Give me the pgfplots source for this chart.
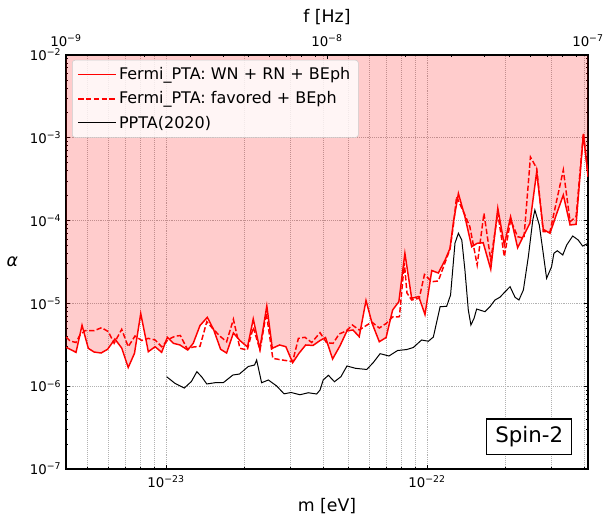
\documentclass[border=0pt]{standalone}
\usepackage{fontspec}
\setmainfont{DejaVu Sans}
\usepackage{pgfplots}
\pgfplotsset{compat=1.18}
\usepackage{pgfplotstable}
\usepgfplotslibrary{fillbetween}

\pgfplotstableread{
lm la
-23.383 -5.530
-23.345 -5.591
-23.322 -5.264
-23.298 -5.542
-23.276 -5.587
-23.249 -5.599
-23.224 -5.554
-23.196 -5.430
-23.170 -5.539
-23.145 -5.774
-23.121 -5.603
-23.097 -5.122
-23.068 -5.583
-23.042 -5.523
-23.017 -5.591
-22.995 -5.409
-22.972 -5.482
-22.947 -5.502
-22.917 -5.563
-22.896 -5.482
-22.870 -5.267
-22.842 -5.168
-22.818 -5.315
-22.791 -5.554
-22.768 -5.599
-22.742 -5.357
-22.717 -5.448
-22.688 -5.527
-22.666 -5.188
-22.641 -5.551
-22.614 -5.031
-22.593 -5.542
-22.565 -5.502
-22.541 -5.523
-22.515 -5.716
-22.491 -5.603
-22.465 -5.502
-22.437 -5.508
-22.410 -5.448
-22.389 -5.412
-22.362 -5.671
-22.334 -5.514
-22.307 -5.333
-22.284 -5.321
-22.260 -5.402
-22.234 -4.965
-22.211 -5.237
-22.183 -5.463
-22.157 -5.412
-22.132 -5.080
-22.108 -4.979
-22.085 -4.395
-22.059 -4.938
-22.032 -4.917
-22.008 -5.134
-21.982 -4.603
-21.957 -4.633
-21.931 -4.476
-21.912 -4.335
-21.899 -4.017
-21.880 -3.673
-21.855 -3.953
-21.829 -4.315
-21.808 -4.274
-21.785 -4.267
-21.756 -4.588
-21.729 -3.851
-21.704 -4.295
-21.680 -3.953
-21.653 -4.327
-21.629 -4.174
-21.606 -4.033
-21.580 -3.409
-21.555 -4.105
-21.529 -4.153
-21.503 -3.912
-21.478 -3.691
-21.452 -4.053
-21.429 -4.045
-21.401 -2.954
-21.383 -3.470
}\solidtab

\pgfplotstableread{
lm la
-23.383 -5.406
-23.368 -5.454
-23.345 -5.472
-23.330 -5.382
-23.311 -5.330
-23.276 -5.330
-23.247 -5.293
-23.221 -5.342
-23.199 -5.482
-23.170 -5.313
-23.145 -5.523
-23.119 -5.394
-23.093 -5.448
-23.068 -5.422
-23.042 -5.442
-23.017 -5.523
-22.991 -5.434
-22.966 -5.397
-22.945 -5.388
-22.919 -5.551
-22.896 -5.527
-22.870 -5.518
-22.844 -5.221
-22.819 -5.313
-22.791 -5.402
-22.768 -5.463
-22.742 -5.192
-22.717 -5.542
-22.689 -5.563
-22.666 -5.289
-22.640 -5.563
-22.616 -5.116
-22.591 -5.663
-22.566 -5.678
-22.541 -5.690
-22.515 -5.704
-22.493 -5.422
-22.468 -5.409
-22.442 -5.472
-22.410 -5.354
-22.385 -5.475
-22.360 -5.482
-22.337 -5.370
-22.310 -5.333
-22.286 -5.261
-22.260 -5.321
-22.236 -5.273
-22.212 -5.225
-22.183 -5.297
-22.157 -5.243
-22.132 -5.164
-22.106 -5.161
-22.087 -4.512
-22.077 -4.874
-22.059 -4.959
-22.030 -4.938
-22.010 -4.651
-21.982 -4.738
-21.957 -4.729
-21.931 -4.506
-21.912 -4.343
-21.899 -4.053
-21.887 -3.711
-21.855 -3.932
-21.836 -4.074
-21.808 -4.536
-21.782 -3.912
-21.756 -4.476
-21.729 -3.912
-21.704 -4.436
-21.680 -3.993
-21.653 -4.194
-21.629 -4.214
-21.604 -3.232
-21.580 -3.368
-21.555 -4.134
-21.529 -4.134
-21.503 -3.751
-21.478 -3.389
-21.452 -4.013
-21.429 -3.953
-21.401 -2.946
-21.383 -3.470
}\dashtab

\pgfplotstableread{
lm la
-22.998 -5.885
-22.966 -5.965
-22.930 -6.022
-22.903 -5.943
-22.882 -5.825
-22.864 -5.885
-22.844 -5.973
-22.813 -5.958
-22.781 -5.958
-22.744 -5.865
-22.719 -5.853
-22.685 -5.762
-22.661 -5.744
-22.653 -5.684
-22.634 -5.958
-22.608 -5.925
-22.576 -5.998
-22.548 -6.092
-22.521 -6.076
-22.487 -6.103
-22.455 -6.079
-22.423 -6.094
-22.410 -6.046
-22.398 -5.925
-22.378 -5.868
-22.355 -5.946
-22.330 -5.885
-22.307 -5.756
-22.274 -5.784
-22.231 -5.798
-22.206 -5.714
-22.180 -5.607
-22.146 -5.635
-22.113 -5.569
-22.078 -5.557
-22.053 -5.533
-22.021 -5.442
-21.995 -5.457
-21.976 -5.406
-21.950 -5.040
-21.925 -5.035
-21.910 -4.899
-21.893 -4.271
-21.880 -4.153
-21.867 -4.234
-21.855 -4.597
-21.842 -5.080
-21.832 -5.261
-21.820 -5.180
-21.810 -5.068
-21.778 -5.100
-21.759 -5.040
-21.740 -4.959
-21.721 -4.926
-21.701 -4.859
-21.682 -4.798
-21.663 -4.926
-21.648 -4.959
-21.631 -4.838
-21.612 -4.436
-21.595 -3.993
-21.587 -3.872
-21.570 -4.053
-21.555 -4.395
-21.542 -4.697
-21.523 -4.557
-21.514 -4.395
-21.501 -4.364
-21.480 -4.415
-21.465 -4.295
-21.442 -4.186
-21.421 -4.234
-21.404 -4.307
-21.383 -4.274
}\pptatab

\begin{document}
\begin{tikzpicture}
\begin{axis}[
  at={(0,0)}, anchor=south west,
  scale only axis, width=391.5pt, height=310.5pt,
  xmode=log, ymode=log,
  xmin=4.136e-24, xmax=4.136e-22, ymin=1e-7, ymax=1e-2,
  xtick={1e-23,1e-22},
  xticklabels={10\textsuperscript{−23},10\textsuperscript{−22}},
  minor xtick={5e-24,6e-24,7e-24,8e-24,9e-24,2e-23,3e-23,4e-23,5e-23,6e-23,7e-23,8e-23,9e-23,2e-22,3e-22,4e-22},
  ytick={1e-7,1e-6,1e-5,1e-4,1e-3,1e-2},
  yticklabels={10\textsuperscript{−7},10\textsuperscript{−6},10\textsuperscript{−5},10\textsuperscript{−4},10\textsuperscript{−3},10\textsuperscript{−2}},
  minor ytick={2e-7,3e-7,4e-7,5e-7,6e-7,7e-7,8e-7,9e-7,2e-6,3e-6,4e-6,5e-6,6e-6,7e-6,8e-6,9e-6,2e-5,3e-5,4e-5,5e-5,6e-5,7e-5,8e-5,9e-5,2e-4,3e-4,4e-4,5e-4,6e-4,7e-4,8e-4,9e-4,2e-3,3e-3,4e-3,5e-3,6e-3,7e-3,8e-3,9e-3},
  xtick pos=bottom, ytick pos=both, tick align=inside,
  major tick length=3.2pt, minor tick length=1.8pt,
  xmajorgrids, xminorgrids, ymajorgrids,
  grid style={densely dotted, black!30, line width=0.5pt},
  minor grid style={densely dotted, black!30, line width=0.5pt},
  tick label style={font=\fontsize{10}{12}\selectfont},
  xticklabel style={yshift=-1.5pt},
  label style={font=\fontsize{13}{15}\selectfont},
  xlabel={m [eV]}, ylabel={\textit{α}},
  xlabel style={yshift=-1pt},
  ylabel style={rotate=-90, xshift=-2pt},
  axis line style={line width=0.9pt},
  every tick/.style={black, line width=0.6pt},
  legend style={at={(0.0115,0.988)}, anchor=north west, draw=black!20, fill=white, fill opacity=0.8, text opacity=1, rounded corners=2pt, font=\fontsize{12}{14}\selectfont, row sep=3.5pt, inner xsep=4pt, inner ysep=3.5pt},
  legend cell align=left,
  legend image code/.code={\draw[#1] (0pt,0pt) -- (28pt,0pt);},
]
\addplot[draw=none, name path=A, forget plot] table[x expr=10^\thisrow{lm}, y expr=10^\thisrow{la}] {\solidtab};
\addplot[draw=none, name path=T, forget plot] coordinates {(4.136e-24,1e-2) (4.136e-22,1e-2)};
\addplot[fill=red, fill opacity=0.2, draw=none, forget plot] fill between[of=A and T];
\addplot[red, line width=1.1pt] table[x expr=10^\thisrow{lm}, y expr=10^\thisrow{la}] {\solidtab};
\addlegendentry{Fermi\_PTA: WN + RN + BEph}
\addplot[red, line width=1.1pt, dash pattern=on 4pt off 1.8pt] table[x expr=10^\thisrow{lm}, y expr=10^\thisrow{la}] {\dashtab};
\addlegendentry{Fermi\_PTA: favored + BEph}
\addplot[black, line width=0.75pt] table[x expr=10^\thisrow{lm}, y expr=10^\thisrow{la}] {\pptatab};
\addlegendentry{PPTA(2020)}
\node[draw=black, line width=0.9pt, fill=white, inner xsep=6.5pt, inner ysep=5.5pt, font=\fontsize{16}{19}\selectfont, anchor=south east] at (rel axis cs:0.97,0.034) {Spin-2};
\end{axis}
\begin{axis}[
  at={(0,0)}, anchor=south west,
  scale only axis, width=391.5pt, height=310.5pt,
  xmode=log, xmin=1e-9, xmax=1e-7, ymin=0, ymax=1,
  axis x line*=top, axis y line=none,
  xtick={1e-9,1e-8,1e-7},
  xticklabels={10\textsuperscript{−9},10\textsuperscript{−8},10\textsuperscript{−7}},
  minor xtick={2e-9,3e-9,4e-9,5e-9,6e-9,7e-9,8e-9,9e-9,2e-8,3e-8,4e-8,5e-8,6e-8,7e-8,8e-8,9e-8},
  tick align=inside,
  major tick length=3.2pt, minor tick length=1.8pt,
  tick label style={font=\fontsize{10}{12}\selectfont},
  xticklabel style={yshift=3pt},
  label style={font=\fontsize{13}{15}\selectfont},
  xlabel={f [Hz]},
  axis line style={line width=0.9pt},
  every tick/.style={black, line width=0.6pt},
]
\addplot[draw=none] coordinates {(1e-8,0.5)};
\end{axis}
\pgfresetboundingbox
\path[use as bounding box] (-49.5pt,-34.5pt) rectangle (402.75pt,351.75pt);
\end{tikzpicture}
\end{document}
